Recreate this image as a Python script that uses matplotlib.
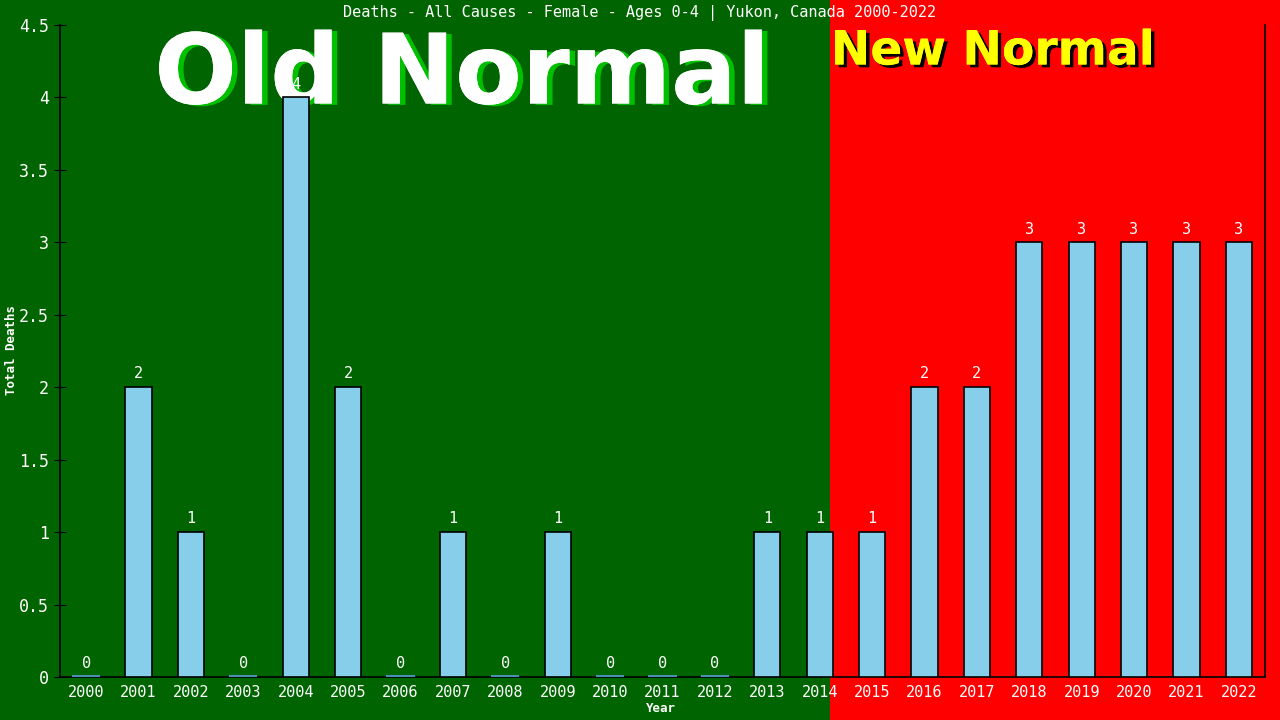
import numpy as np
import matplotlib.pyplot as plt
from matplotlib.patches import Rectangle
import matplotlib.patheffects as pe

years = [str(y) for y in range(2000, 2023)]
deaths = [0, 2, 1, 0, 4, 2, 0, 1, 0, 1, 0, 0, 0, 1, 1, 1, 2, 2, 3, 3, 3, 3, 3]
yticks = [0, 0.5, 1, 1.5, 2, 2.5, 3, 3.5, 4, 4.5]
ytick_labels = ["0", "0.5", "1", "1.5", "2", "2.5", "3", "3.5", "4", "4.5"]

green = "#006400"
red = "#ff0000"
mono = "DejaVu Sans Mono"

fig = plt.figure(figsize=(12.8, 7.2), dpi=100)
fig.patch.set_facecolor(green)
split = 830 / 1280
fig.patches.append(Rectangle((split, 0), 1 - split, 1, transform=fig.transFigure,
                             facecolor=red, edgecolor="none", zorder=-10))

ax = fig.add_axes([60 / 1280, 43 / 720, 1205 / 1280, 652 / 720])
ax.patch.set_alpha(0)

# big labels sit behind the bars
ax.text(462 / 1280, 1 - 77 / 720, "Old Normal", transform=fig.transFigure, ha="center", va="center",
        color="white", fontsize=70, weight="bold", family="DejaVu Sans", zorder=1, clip_on=False,
        path_effects=[pe.withSimplePatchShadow(offset=(4, -1), shadow_rgbFace="#00c000", alpha=1),
                      pe.Normal()])
ax.text(993 / 1280, 1 - 52 / 720, "New Normal", transform=fig.transFigure, ha="center", va="center",
        color="yellow", fontsize=34, weight="bold", family="DejaVu Sans", zorder=1, clip_on=False,
        path_effects=[pe.withSimplePatchShadow(offset=(2.5, -2), shadow_rgbFace="black", alpha=1),
                      pe.Normal()])

x = np.arange(len(years))
ax.bar(x, deaths, width=0.5, color="#87ceeb", edgecolor="black", linewidth=1.2, zorder=3)
for xi, v in zip(x, deaths):
    if v == 0:
        ax.plot([xi - 0.25, xi + 0.25], [0.005, 0.005], color="#4a8fb5", lw=1.5, zorder=3)
    ax.text(xi, v + 0.04, str(v), ha="center", va="bottom", color="white",
            fontsize=11, family=mono, zorder=4)

ax.set_xlim(-0.5, len(years) - 0.5)
ax.set_ylim(0, 4.5)
ax.set_xticks(x)
ax.set_xticklabels(years, family=mono, fontsize=11, color="white")
ax.set_yticks(yticks)
ax.set_yticklabels(ytick_labels, family=mono, fontsize=12, color="white")
ax.tick_params(axis="y", direction="inout", length=8, color="black", pad=4)
ax.tick_params(axis="x", length=0, pad=6)
for s in ["left", "bottom", "right"]:
    ax.spines[s].set_color("black")
    ax.spines[s].set_linewidth(1.2)
ax.spines["top"].set_visible(False)

fig.text(12 / 1280, 1 - 350 / 720, "Total Deaths", rotation=90, ha="center", va="center",
         color="white", fontsize=9, family=mono, weight="bold")
fig.text(661 / 1280, 1 - 709 / 720, "Year", ha="center", va="center",
         color="white", fontsize=9, family=mono, weight="bold")
fig.text(640 / 1280, 1 - 13 / 720, "Deaths - All Causes - Female - Ages 0-4 | Yukon, Canada 2000-2022",
         ha="center", va="center", color="white", fontsize=11, family=mono)

fig.savefig("out.png", dpi=100, facecolor=fig.get_facecolor())
